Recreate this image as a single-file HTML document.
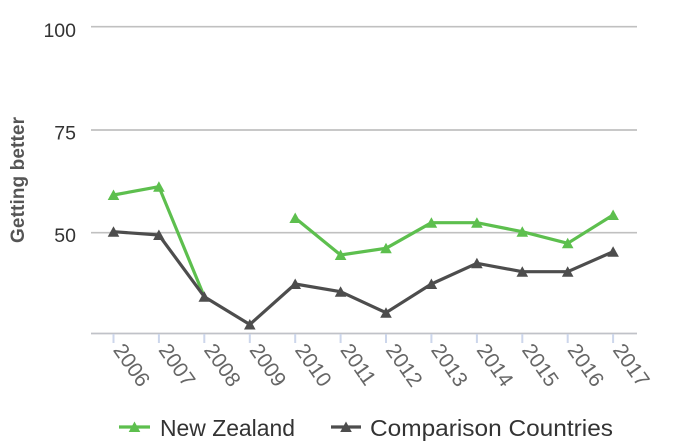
<!DOCTYPE html>
<html><head><meta charset="utf-8"><style>
html,body{margin:0;padding:0;background:#fff;}
svg{display:block;}
</style></head><body>
<svg width="680" height="446" viewBox="0 0 680 446" xmlns="http://www.w3.org/2000/svg" font-family="'Liberation Sans', sans-serif">
<!-- gridlines -->
<g stroke="#c0c0c0" stroke-width="1.7">
<line x1="91" y1="26.7" x2="637" y2="26.7"/>
<line x1="91" y1="130" x2="637" y2="130"/>
<line x1="91" y1="232.7" x2="637" y2="232.7"/>
</g>
<line x1="91" y1="333.5" x2="637" y2="333.5" stroke="#c0c2c8" stroke-width="1.8"/>
<!-- ticks -->
<g stroke="#ccd6eb" stroke-width="2">
<line x1="113.5" y1="334" x2="113.5" y2="343"/>
<line x1="158.9" y1="334" x2="158.9" y2="343"/>
<line x1="204.3" y1="334" x2="204.3" y2="343"/>
<line x1="249.8" y1="334" x2="249.8" y2="343"/>
<line x1="295.2" y1="334" x2="295.2" y2="343"/>
<line x1="340.6" y1="334" x2="340.6" y2="343"/>
<line x1="386.0" y1="334" x2="386.0" y2="343"/>
<line x1="431.4" y1="334" x2="431.4" y2="343"/>
<line x1="476.9" y1="334" x2="476.9" y2="343"/>
<line x1="522.3" y1="334" x2="522.3" y2="343"/>
<line x1="567.7" y1="334" x2="567.7" y2="343"/>
<line x1="613.1" y1="334" x2="613.1" y2="343"/>
</g>
<!-- y labels -->
<g fill="#333" font-size="19.5" text-anchor="end">
<text x="76" y="37">100</text>
<text x="76" y="139.5">75</text>
<text x="76" y="242">50</text>
</g>
<!-- y title -->
<text transform="translate(24,180) rotate(-90)" text-anchor="middle" font-size="19" font-weight="bold" fill="#555" textLength="126" lengthAdjust="spacing">Getting better</text>
<!-- x labels -->
<g fill="#666" font-size="21">
<text transform="translate(112.5,350) rotate(55)">2006</text>
<text transform="translate(157.9,350) rotate(55)">2007</text>
<text transform="translate(203.3,350) rotate(55)">2008</text>
<text transform="translate(248.8,350) rotate(55)">2009</text>
<text transform="translate(294.2,350) rotate(55)">2010</text>
<text transform="translate(339.6,350) rotate(55)">2011</text>
<text transform="translate(385.0,350) rotate(55)">2012</text>
<text transform="translate(430.4,350) rotate(55)">2013</text>
<text transform="translate(475.9,350) rotate(55)">2014</text>
<text transform="translate(521.3,350) rotate(55)">2015</text>
<text transform="translate(566.7,350) rotate(55)">2016</text>
<text transform="translate(612.1,350) rotate(55)">2017</text>
</g>
<!-- NZ series -->
<g stroke="#5dbf4e" stroke-width="3.2" fill="none" stroke-linejoin="round" stroke-linecap="round">
<polyline points="113.5,195 158.9,186.7 204.3,296.7"/>
<polyline points="295.2,218 340.6,255 386.0,248.3 431.4,222.7 476.9,222.7 522.3,231.7 567.7,243.3 613.1,215"/>
</g>
<g fill="#5dbf4e">
<path d="M113.5,189.5 L119.3,200 L107.7,200 Z"/>
<path d="M158.9,181.2 L164.7,191.7 L153.1,191.7 Z"/>
<path d="M295.2,212.5 L301,223 L289.4,223 Z"/>
<path d="M340.6,249.5 L346.4,260 L334.8,260 Z"/>
<path d="M386.0,242.8 L391.8,253.3 L380.2,253.3 Z"/>
<path d="M431.4,217.2 L437.2,227.7 L425.6,227.7 Z"/>
<path d="M476.9,217.2 L482.7,227.7 L471.1,227.7 Z"/>
<path d="M522.3,226.2 L528.1,236.7 L516.5,236.7 Z"/>
<path d="M567.7,237.8 L573.5,248.3 L561.9,248.3 Z"/>
<path d="M613.1,209.5 L618.9,220 L607.3,220 Z"/>
</g>
<!-- Comparison series -->
<polyline points="113.5,231.7 158.9,235 204.3,296.7 249.8,324.5 295.2,284 340.6,291.7 386.0,312.7 431.4,284 476.9,263.3 522.3,271.7 567.7,271.7 613.1,251.7" stroke="#4d4d4d" stroke-width="3.2" fill="none" stroke-linejoin="round" stroke-linecap="round"/>
<g fill="#4d4d4d">
<path d="M113.5,226.2 L119.3,236.7 L107.7,236.7 Z"/>
<path d="M158.9,229.5 L164.7,240 L153.1,240 Z"/>
<path d="M204.3,291.2 L210.1,301.7 L198.5,301.7 Z"/>
<path d="M249.8,319 L255.6,329.5 L244,329.5 Z"/>
<path d="M295.2,278.5 L301,289 L289.4,289 Z"/>
<path d="M340.6,286.2 L346.4,296.7 L334.8,296.7 Z"/>
<path d="M386.0,307.2 L391.8,317.7 L380.2,317.7 Z"/>
<path d="M431.4,278.5 L437.2,289 L425.6,289 Z"/>
<path d="M476.9,257.8 L482.7,268.3 L471.1,268.3 Z"/>
<path d="M522.3,266.2 L528.1,276.7 L516.5,276.7 Z"/>
<path d="M567.7,266.2 L573.5,276.7 L561.9,276.7 Z"/>
<path d="M613.1,246.2 L618.9,256.7 L607.3,256.7 Z"/>
</g>
<!-- legend -->
<line x1="119" y1="427" x2="150" y2="427" stroke="#5dbf4e" stroke-width="3.2"/>
<path d="M134.5,421.5 L140.3,432 L128.7,432 Z" fill="#5dbf4e"/>
<text x="160" y="436" font-size="23" fill="#333" textLength="135" lengthAdjust="spacingAndGlyphs">New Zealand</text>
<line x1="331" y1="427" x2="361" y2="427" stroke="#4d4d4d" stroke-width="3.2"/>
<path d="M346,421.5 L351.8,432 L340.2,432 Z" fill="#4d4d4d"/>
<text x="370" y="436" font-size="23" fill="#333" textLength="243" lengthAdjust="spacingAndGlyphs">Comparison Countries</text>
</svg>
</body></html>
